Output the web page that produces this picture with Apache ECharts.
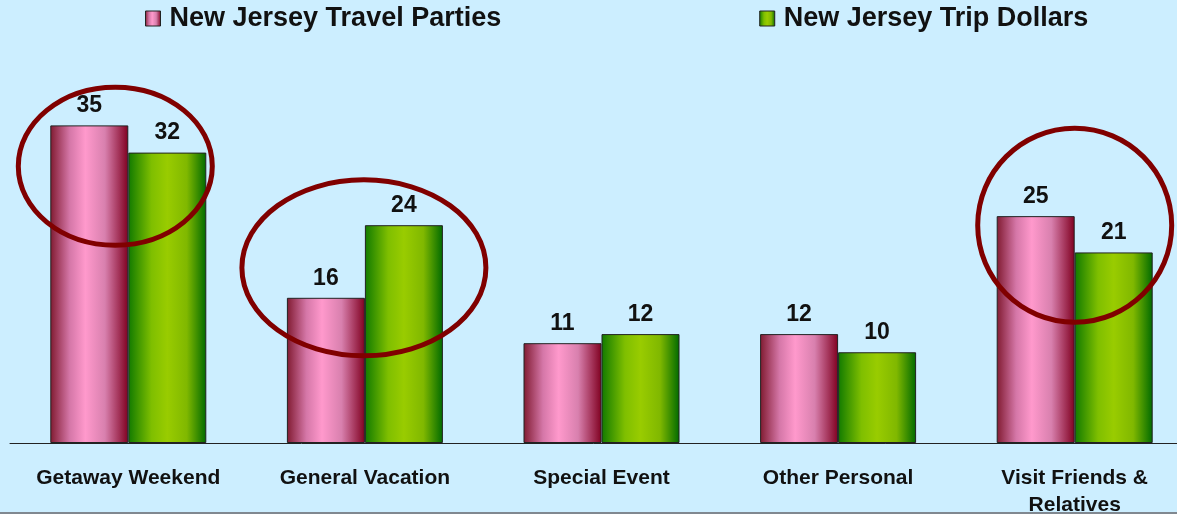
<!DOCTYPE html>
<html><head><meta charset="utf-8">
<script src="https://cdn.jsdelivr.net/npm/echarts@6/dist/echarts.min.js"></script>
<style>html,body{margin:0;padding:0;background:#cceeff}#c{width:1177px;height:514px}</style>
</head><body><div id="c"></div>
<script>
const categories = ['Getaway Weekend', 'General Vacation', 'Special Event', 'Other Personal', 'Visit Friends &\nRelatives'];
const seriesNames = ['New Jersey Travel Parties', 'New Jersey Trip Dollars'];
const travelParties = [35, 16, 11, 12, 25];
const tripDollars = [32, 24, 12, 10, 21];
// highlighted categories (index, value to centre the ellipse on)
const highlights = [[0, 30.5], [1, 19.3], [4, 24]];

const pinkGrad = new echarts.graphic.LinearGradient(0,0,1,0,[
  {offset:0,color:'#801a30'},{offset:0.25,color:'#d577a8'},{offset:0.45,color:'#ff99cc'},
  {offset:0.7,color:'#d880ae'},{offset:1,color:'#800020'}]);
const greenGrad = new echarts.graphic.LinearGradient(0,0,1,0,[
  {offset:0,color:'#117a00'},{offset:0.3,color:'#7fbf00'},{offset:0.5,color:'#99cc00'},
  {offset:0.75,color:'#80b800'},{offset:1,color:'#006a00'}]);

const FF = 'Liberation Sans, Arial, sans-serif';
const chart = echarts.init(document.getElementById('c'), null, {renderer:'canvas'});
const lbl = {show:true, position:'top', distance:8, fontFamily:FF, fontWeight:'bold', fontSize:23, color:'#111'};
chart.setOption({
  backgroundColor:'#cceeff',
  animation:false,
  legend:{
    top:0, left:140, itemGap:258, itemWidth:15, itemHeight:15, icon:'rect',
    textStyle:{fontFamily:FF, fontWeight:'bold', fontSize:27, color:'#111', padding:[0,0,0,4]},
    data:[{name:seriesNames[0], itemStyle:{color:pinkGrad, borderColor:'#222', borderWidth:1}},
          {name:seriesNames[1], itemStyle:{color:greenGrad, borderColor:'#222', borderWidth:1}}]
  },
  grid:{left:10, right:-16, top:80, bottom:71, outerBoundsMode:'none', containLabel:false},
  xAxis:{type:'category', data:categories,
    axisLine:{lineStyle:{color:'#222', width:1}}, axisTick:{show:false},
    axisLabel:{interval:0, margin:22, fontFamily:FF, fontWeight:'bold', fontSize:21, color:'#111', lineHeight:27}},
  yAxis:{type:'value', min:0, max:40, show:false, splitLine:{show:false}},
  series:[
    {name:seriesNames[0], type:'bar', data:travelParties, barWidth:78, barGap:'0%',
     itemStyle:{color:pinkGrad, borderColor:'#222', borderWidth:1}, label:lbl},
    {name:seriesNames[1], type:'bar', data:tripDollars, barWidth:78, barGap:'0%',
     itemStyle:{color:greenGrad, borderColor:'#222', borderWidth:1}, label:lbl}
  ]
});
const radii = [[97,79],[122,88],[97,97]];
const dx = [-13, -1, 0];
const g = highlights.map((h,i)=>{
  const p = chart.convertToPixel({gridIndex:0},[h[0],h[1]]);
  return {type:'ellipse', shape:{cx:p[0]+dx[i], cy:p[1], rx:radii[i][0], ry:radii[i][1]},
          style:{fill:null, stroke:'#800000', lineWidth:5}, z:100};
});
g.push({type:'rect', shape:{x:0,y:512,width:1177,height:2}, style:{fill:'#808890'}, z:100});
chart.setOption({graphic:g});
</script></body></html>
